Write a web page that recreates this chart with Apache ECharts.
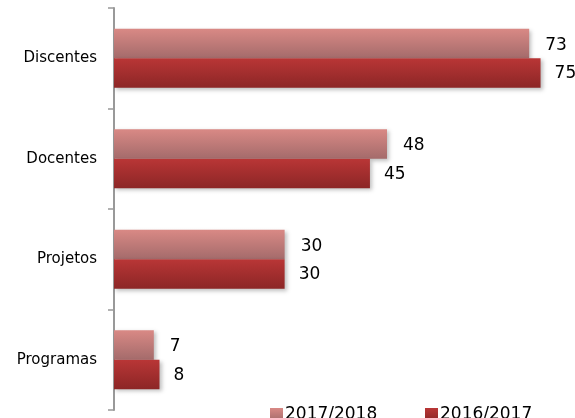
<!DOCTYPE html>
<html>
<head>
<meta charset="utf-8">
<script src="https://cdn.jsdelivr.net/npm/echarts@6/dist/echarts.min.js"></script>
<style>html,body{margin:0;padding:0;background:#fff}#c{width:575px;height:418px}</style>
</head>
<body>
<div id="c"></div>
<script>
var categories = ['Discentes', 'Docentes', 'Projetos', 'Programas'];
var seriesNames = ['2017/2018', '2016/2017'];
var values2017_2018 = [73, 48, 30, 7];
var values2016_2017 = [75, 45, 30, 8];

var font = 'DejaVu Sans';
function grad(a, b) {
  return new echarts.graphic.LinearGradient(0, 0, 0, 1, [{offset: 0, color: a}, {offset: 1, color: b}]);
}
var chart = echarts.init(document.getElementById('c'));
chart.setOption({
  animation: false,
  backgroundColor: '#fff',
  grid: {left: 114, right: 6, top: 8, bottom: 8, containLabel: false},
  legend: [
    {data: [seriesNames[0]], left: 265, top: 401, itemWidth: 13, itemHeight: 13, itemGap: 0,
     textStyle: {fontFamily: font, fontSize: 17, color: '#000', padding: [0, 0, 0, -3]}, icon: 'rect'},
    {data: [seriesNames[1]], left: 420, top: 401, itemWidth: 13, itemHeight: 13, itemGap: 0,
     textStyle: {fontFamily: font, fontSize: 17, color: '#000', padding: [0, 0, 0, -3]}, icon: 'rect'}
  ],
  xAxis: {type: 'value', min: 0, max: 80, show: false, splitLine: {show: false}},
  yAxis: {
    type: 'category', data: categories, inverse: true,
    axisLine: {show: true, lineStyle: {color: '#999', width: 2}},
    axisTick: {show: true, length: 6, lineStyle: {color: '#999', width: 1.5}},
    axisLabel: {fontFamily: font, fontSize: 15, color: '#000', margin: 17}
  },
  series: [
    {name: seriesNames[0], type: 'bar', data: values2017_2018, barWidth: 29.5, barGap: '0%',
     itemStyle: {color: grad('#D98985', '#A46B6B'), shadowBlur: 4, shadowOffsetX: 2, shadowOffsetY: 2, shadowColor: 'rgba(0,0,0,0.25)'},
     label: {show: true, position: 'right', distance: 16, offset: [0, 2], fontFamily: font, fontSize: 17, color: '#000'}},
    {name: seriesNames[1], type: 'bar', data: values2016_2017, barWidth: 29.5, barGap: '0%',
     itemStyle: {color: grad('#B93636', '#8C2626'), shadowBlur: 4, shadowOffsetX: 2, shadowOffsetY: 2, shadowColor: 'rgba(0,0,0,0.25)'},
     label: {show: true, position: 'right', distance: 14, offset: [0, 1], fontFamily: font, fontSize: 17, color: '#000'}}
  ]
});
</script>
</body>
</html>
